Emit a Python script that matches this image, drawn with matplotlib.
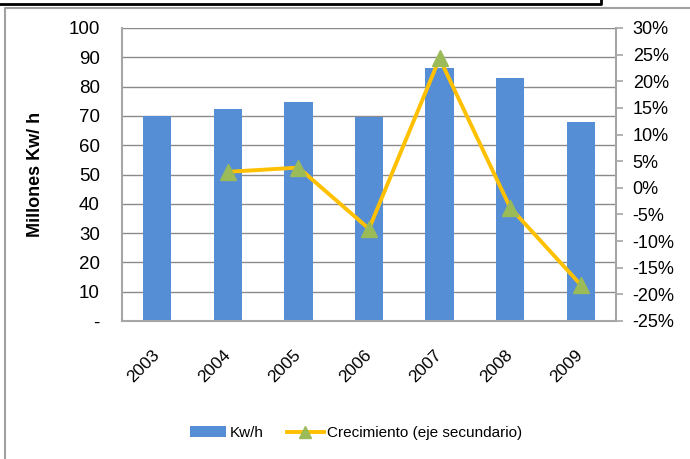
import numpy as np
import matplotlib
matplotlib.use('Agg')
import matplotlib.pyplot as plt
from matplotlib.lines import Line2D

plt.rcParams['font.family'] = ['Liberation Sans', 'DejaVu Sans']

years = ['2003', '2004', '2005', '2006', '2007', '2008', '2009']
kwh = [70.0, 72.2, 74.8, 69.6, 86.5, 83.0, 68.0]
growth_years = ['2004', '2005', '2006', '2007', '2008', '2009']
growth = [3.0, 3.8, -7.7, 24.3, -3.7, -18.2]

left_ticks = [0, 10, 20, 30, 40, 50, 60, 70, 80, 90, 100]
left_labels = ['-', '10', '20', '30', '40', '50', '60', '70', '80', '90', '100']
right_ticks = [30, 25, 20, 15, 10, 5, 0, -5, -10, -15, -20, -25]
right_labels = ['30%', '25%', '20%', '15%', '10%', '5%', '0%', '-5%', '-10%', '-15%', '-20%', '-25%']

bar_color = '#558ED5'
line_color = '#FFC000'
marker_color = '#9BBB59'
grid_color = '#8A8A8A'
spine_color = '#A6A6A6'

fig = plt.figure(figsize=(6.9, 4.59), dpi=100)
ax1 = fig.add_axes([122/690, 1-321/459, (616-122)/690, (321-28)/459])

x = np.arange(len(years))
ax1.bar(x, kwh, width=0.4, color=bar_color, label='Kw/h', zorder=2)
ax1.set_xlim(-0.5, len(years) - 0.5)
ax1.set_ylim(0, 100)
ax1.set_yticks(left_ticks)
ax1.set_yticklabels(left_labels, fontsize=13.5)
ax1.tick_params(axis='y', length=0, pad=16)
ax1.set_xticks(x)
ax1.set_xticklabels(years, fontsize=12.5, rotation=45, ha='right',
                    va='center', rotation_mode='anchor')
ax1.tick_params(axis='x', length=0, pad=23)
ax1.yaxis.grid(True, color=grid_color, linewidth=1.0, zorder=0)
ax1.set_axisbelow(True)
ax1.set_ylabel('Millones Kw/ h', fontsize=13, fontweight='bold')
ax1.yaxis.set_label_coords(-0.157, 0.5)
for side in ['top', 'right']:
    ax1.spines[side].set_visible(False)
for side in ['left', 'bottom']:
    ax1.spines[side].set_color(spine_color)
    ax1.spines[side].set_linewidth(1.5)

ax2 = ax1.twinx()
gx = [years.index(y) for y in growth_years]
ax2.plot(gx, growth, color=line_color, linewidth=2.8, marker='^',
         markersize=11, markerfacecolor=marker_color,
         markeredgecolor=marker_color, label='Crecimiento (eje secundario)',
         zorder=3)
ax2.set_ylim(-25, 30)
ax2.set_yticks(right_ticks)
ax2.set_yticklabels(right_labels, fontsize=13)
ax2.tick_params(axis='y', length=5, width=1.2, color=spine_color,
                direction='out', pad=7)
for side in ['top', 'left', 'bottom']:
    ax2.spines[side].set_visible(False)
ax2.spines['right'].set_color(spine_color)
ax2.spines['right'].set_linewidth(1.5)

h1, l1 = ax1.get_legend_handles_labels()
h2, l2 = ax2.get_legend_handles_labels()
fig.legend(h1 + h2, l1 + l2, loc='center', bbox_to_anchor=(356/690, 1-433/459),
           ncol=2, frameon=False, fontsize=11, handlelength=2.4,
           handletextpad=0.25, columnspacing=1.5, markerscale=0.75)

# frame lines around the chart
fig.add_artist(Line2D([5/690, 5/690, 1.0], [0, 1-8/459, 1-8/459],
                      color='#A0A0A0', linewidth=1.5))
fig.add_artist(Line2D([0, 601/690, 601/690], [1-4/459, 1-4/459, 1.0],
                      color='black', linewidth=2))

fig.savefig('out.png', dpi=100)
